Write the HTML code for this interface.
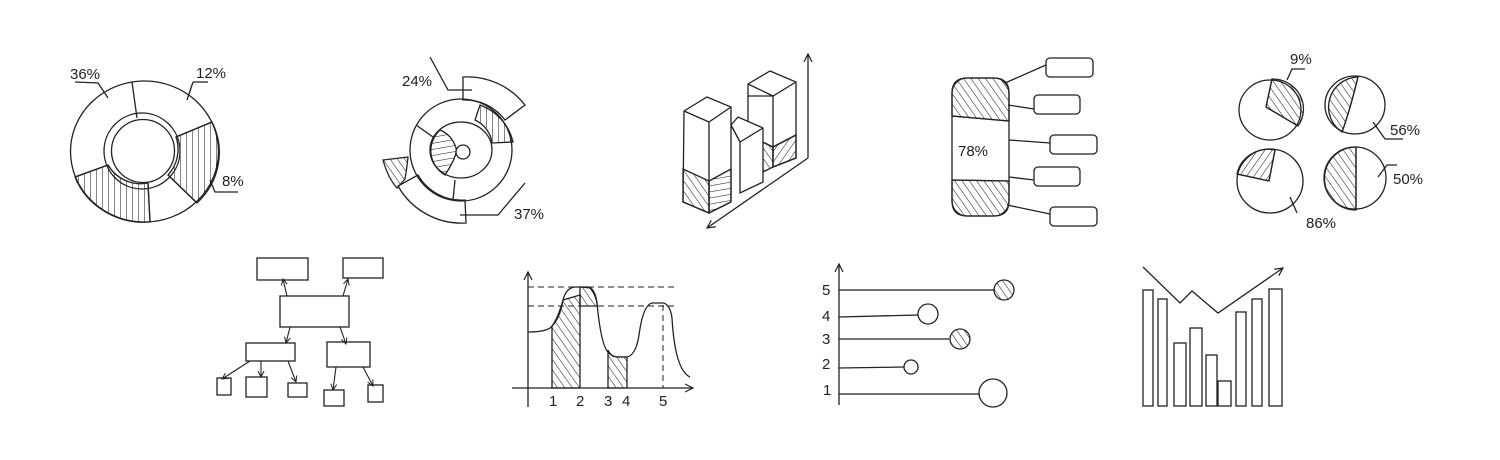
<!DOCTYPE html>
<html><head><meta charset="utf-8"><style>
html,body{margin:0;padding:0;background:#fff;width:1500px;height:460px;overflow:hidden}
svg{display:block}
text{font-family:"Liberation Sans",sans-serif;fill:#222;font-size:15px}
</style></head><body>
<svg width="1500" height="460" viewBox="0 0 1500 460" xmlns="http://www.w3.org/2000/svg">
<defs>
<pattern id="hd" width="6" height="6" patternUnits="userSpaceOnUse" patternTransform="rotate(-35)"><line x1="0" y1="0" x2="0" y2="6" stroke="#222" stroke-width="1.1"/></pattern>
<pattern id="hd2" width="6" height="6" patternUnits="userSpaceOnUse" patternTransform="rotate(35)"><line x1="0" y1="0" x2="0" y2="6" stroke="#222" stroke-width="1.1"/></pattern>
<pattern id="hv" width="6" height="6" patternUnits="userSpaceOnUse"><line x1="0" y1="0" x2="0" y2="6" stroke="#222" stroke-width="1.1"/></pattern>
<pattern id="hh" width="6" height="6" patternUnits="userSpaceOnUse" patternTransform="rotate(-10)"><line x1="0" y1="0" x2="6" y2="0" stroke="#222" stroke-width="1.1"/></pattern>
<marker id="ar" markerWidth="10" markerHeight="10" refX="8" refY="5" orient="auto" markerUnits="userSpaceOnUse"><path d="M0,1 L8,5 L0,9" fill="none" stroke="#222" stroke-width="1.2"/></marker>
<marker id="as" markerWidth="7" markerHeight="7" refX="6" refY="3.5" orient="auto" markerUnits="userSpaceOnUse"><path d="M0,0.5 L6,3.5 L0,6.5" fill="none" stroke="#222" stroke-width="1"/></marker>
</defs>
<g fill="none" stroke="#222" stroke-width="1.3">

<!-- Chart 1 donut -->
<path d="M212,122 A74,70.5 0 0 1 197,203 L168,175 A38,38 0 0 0 176,137 Z" fill="url(#hv)"/>
<path d="M75,177 A74,70.5 0 0 0 150,222 L148,183 A38,38 0 0 1 108,165 Z" fill="url(#hv)"/>
<ellipse cx="144.5" cy="151.5" rx="74" ry="70.5"/>
<circle cx="142" cy="151" r="38"/>
<circle cx="143" cy="151" r="31.5" fill="#fff"/>
<path d="M132,82 L137,118 M212,122 L176,137 M197,203 L168,175 M148,183 L150,222 M75,177 L108,165"/>
<path d="M75,82 L98,83 L108,98 M193,82 L208,82 M193,82 L187,100 M238,192 L215,192 L210,180"/>

<!-- Chart 2 -->
<path d="M463,77 A73,73 0 0 1 525,105 L505,120 A50,50 0 0 0 463,100 Z" fill="#fff"/>
<path d="M398,186 A73,73 0 0 0 466,223 L465,200 A50,50 0 0 1 418,175 Z" fill="#fff"/>
<path d="M408,157 L383,160 Q388,178 397,188 L405,179 Q407,168 408,157 Z" fill="url(#hd)"/>
<path d="M480,105 L475,120 A31,29 0 0 1 492,143 L513,142 A52,52 0 0 0 480,105 Z" fill="url(#hv)"/>
<circle cx="461" cy="150" r="51"/>
<path d="M440,130 A31,29 0 0 0 445,175 Q458,155 456,148 Q452,135 440,130 Z" fill="url(#hh)"/>
<ellipse cx="461" cy="150" rx="31" ry="28"/>
<circle cx="463" cy="152" r="7" fill="#fff"/>
<path d="M416,125 L433,137 M455,180 L453,200"/>
<path d="M430,57 L448,90 L472,90 M525,183 L498,215 L460,215"/>

<!-- Chart 3 3D bars -->
<path d="M748,96 L748,84 L770,71 L796,82 L796,158 L773,167 L773,96 Z" fill="#fff"/>
<path d="M748,84 L773,96 L796,82 M748,96 L748,128"/>
<path d="M773,147 L796,135 L796,158 L773,167 Z" fill="url(#hd2)"/>
<path d="M748,135 L773,147 L773,167 L763,172 L748,165 Z" fill="url(#hd)"/>
<path d="M748,135 L773,147 L796,135"/>
<path d="M731,125 L738,117 L763,128 L763,182 L740,193 L740,142 Z" fill="#fff"/>
<path d="M731,125 L740,142 L763,128"/>
<path d="M684,111 L707,97 L731,107 L731,202 L709,213 L683,202 Z" fill="#fff"/>
<path d="M684,111 L709,122 L731,107 M709,122 L709,213"/>
<path d="M683,169 L709,181 L709,213 L683,202 Z" fill="url(#hd)"/>
<path d="M709,181 L731,169 L731,202 L709,213 Z" fill="url(#hh)"/>
<path d="M808,158 L808,54" marker-end="url(#ar)"/>
<path d="M808,158 L707,228" marker-end="url(#ar)"/>

<!-- Chart 4 pill -->
<path d="M952,116 L952,93 Q952,78 967,78 L994,78 Q1009,78 1009,93 L1009,121 Z" fill="url(#hd)"/>
<path d="M952,180 L1009,181 L1009,201 Q1009,216 994,216 L967,216 Q952,216 952,201 Z" fill="url(#hd)"/>
<rect x="952" y="78" width="57" height="138" rx="15"/>
<path d="M952,116 L1009,121 M952,180 L1009,181"/>
<rect x="1046" y="58" width="47" height="19" rx="4"/>
<rect x="1034" y="95" width="46" height="19" rx="4"/>
<rect x="1050" y="135" width="47" height="19" rx="4"/>
<rect x="1034" y="167" width="46" height="19" rx="4"/>
<rect x="1050" y="207" width="47" height="19" rx="4"/>
<path d="M1005,83 L1046,65 M1008,105 L1034,109 M1009,140 L1050,143 M1009,177 L1034,180 M1007,205 L1050,214"/>

<!-- Chart 5 pies -->
<path d="M1272,79 L1266,107 L1298,126 A31,30 0 0 0 1272,79 Z" fill="url(#hd)"/>
<ellipse cx="1270" cy="110" rx="31" ry="30"/>
<path d="M1272,79 L1266,107 L1298,126"/>
<path d="M1358,77 Q1350,110 1342,132 A30,30 0 0 1 1358,77 Z" fill="url(#hd)"/>
<ellipse cx="1355" cy="105" rx="30" ry="29"/>
<path d="M1358,77 Q1350,110 1342,132"/>
<path d="M1237,174 L1269,181 L1275,150 A32,31 0 0 0 1237,174 Z" fill="url(#hd2)"/>
<ellipse cx="1270" cy="181" rx="33" ry="32"/>
<path d="M1237,174 L1269,181 L1275,150"/>
<path d="M1356,147 L1356,210 A31,31 0 0 1 1356,147 Z" fill="url(#hd)"/>
<ellipse cx="1355" cy="178" rx="31" ry="31"/>
<path d="M1356,147 L1356,210"/>
<path d="M1287,80 L1292,69 L1305,69 M1373,122 L1385,139 L1403,139 M1290,197 L1297,213 M1378,177 L1387,165 L1397,165"/>

<!-- Tree -->
<rect x="257" y="258" width="51" height="22"/>
<rect x="343" y="258" width="40" height="20"/>
<rect x="280" y="296" width="69" height="31"/>
<rect x="246" y="343" width="49" height="18"/>
<rect x="327" y="342" width="43" height="25"/>
<rect x="217" y="378" width="14" height="17"/>
<rect x="246" y="377" width="21" height="20"/>
<rect x="288" y="383" width="19" height="14"/>
<rect x="324" y="390" width="20" height="16"/>
<rect x="368" y="385" width="15" height="17"/>
<g stroke-width="1.1">
<path d="M287,296 L283,279" marker-end="url(#as)"/>
<path d="M343,296 L348,279" marker-end="url(#as)"/>
<path d="M290,327 L286,343" marker-end="url(#as)"/>
<path d="M340,327 L346,344" marker-end="url(#as)"/>
<path d="M250,361 L222,379" marker-end="url(#as)"/>
<path d="M261,361 L261,377" marker-end="url(#as)"/>
<path d="M288,361 L296,382" marker-end="url(#as)"/>
<path d="M336,367 L333,390" marker-end="url(#as)"/>
<path d="M363,367 L373,386" marker-end="url(#as)"/>
</g>

<!-- Area chart -->
<path d="M552,326 Q558,318 563,300 L580,295 L580,388 L552,388 Z" fill="url(#hd)"/>
<path d="M580,287 L590,288 Q595,293 597,303 L597,306 L580,306 Z" fill="url(#hd)"/>
<path d="M608,350 Q611,357 618,357 L627,357 L627,388 L608,388 Z" fill="url(#hd)"/>
<path d="M528,332 Q548,332 552,326 Q560,318 563,300 Q566,288 575,287 L588,287 Q595,288 597,303 Q601,345 608,352 Q612,357 618,357 L627,357 Q636,355 639,335 Q643,305 652,303 L663,303 Q670,304 672,318 Q675,370 690,377"/>
<path d="M528,407 L528,272" marker-end="url(#ar)"/>
<path d="M512,388 L693,388" marker-end="url(#ar)"/>
<g stroke-dasharray="6,4" stroke-width="1">
<path d="M528,287 L676,287 M528,306 L676,306 M580,287 L580,388 M663,305 L663,388"/>
</g>

<!-- Lollipop -->
<path d="M839,405 L839,264" marker-end="url(#ar)"/>
<path d="M839,290 L995,290 M839,317 L918,315 M839,339 L949,339 M839,368 L904,367 M839,394 L979,394"/>
<circle cx="1004" cy="290" r="10" fill="url(#hd)"/>
<circle cx="928" cy="314" r="10" fill="#fff"/>
<circle cx="960" cy="339" r="10" fill="url(#hd)"/>
<circle cx="911" cy="367" r="7" fill="#fff"/>
<ellipse cx="993" cy="393" rx="14" ry="14" fill="#fff"/>

<!-- Bar chart -->
<rect x="1143" y="290" width="10" height="116"/>
<rect x="1158" y="299" width="9" height="107"/>
<rect x="1174" y="343" width="12" height="63"/>
<rect x="1190" y="328" width="12" height="78"/>
<rect x="1206" y="355" width="11" height="51"/>
<rect x="1218" y="381" width="13" height="25"/>
<rect x="1236" y="312" width="10" height="94"/>
<rect x="1252" y="299" width="10" height="107"/>
<rect x="1269" y="289" width="13" height="117"/>
<path d="M1143,267 L1180,303 L1192,291 L1218,313 L1283,268" marker-end="url(#ar)"/>
</g>

<g>
<text x="70" y="79" font-size="16">36%</text>
<text x="196" y="78" font-size="16">12%</text>
<text x="222" y="186" font-size="15">8%</text>
<text x="402" y="86" font-size="15">24%</text>
<text x="514" y="219" font-size="15">37%</text>
<text x="958" y="156" font-size="16">78%</text>
<text x="1290" y="64" font-size="14">9%</text>
<text x="1390" y="135" font-size="16">56%</text>
<text x="1306" y="228" font-size="16">86%</text>
<text x="1393" y="184" font-size="16">50%</text>
<text x="549" y="406" font-size="13">1</text>
<text x="576" y="406" font-size="13">2</text>
<text x="604" y="406" font-size="13">3</text>
<text x="622" y="406" font-size="13">4</text>
<text x="659" y="406" font-size="13">5</text>
<text x="822" y="295" font-size="13">5</text>
<text x="822" y="321" font-size="13">4</text>
<text x="822" y="344" font-size="13">3</text>
<text x="822" y="369" font-size="13">2</text>
<text x="823" y="395" font-size="13">1</text>
</g>
</svg>
</body></html>
